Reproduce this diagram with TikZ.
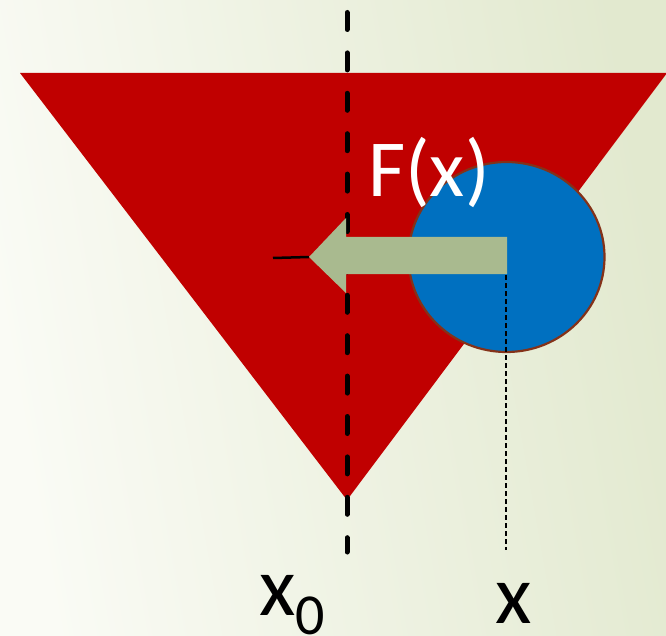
\documentclass[tikz,border=0pt]{standalone}
\usepackage{fontspec}
\setmainfont{Carlito}
\definecolor{bgA}{HTML}{FAFBF5}
\definecolor{bgB}{HTML}{E2E9CF}
\definecolor{tri}{HTML}{C00000}
\definecolor{ball}{HTML}{0070C0}
\definecolor{ballrim}{HTML}{843219}
\definecolor{arrowfill}{HTML}{A9BA8F}
\tikzset{
  axisline/.style={line width=5pt, line cap=round, dash pattern=on 17pt off 23.4pt},
  thindots/.style={line width=1.8pt, dash pattern=on 5pt off 3pt},
  lbl/.style={inner sep=0pt, anchor=base west}
}
\begin{document}
\begin{tikzpicture}[x=1pt,y=-1pt]
\useasboundingbox (0,0) rectangle (666,636);
% background gradient
\shade[left color=bgA, right color=bgB, shading angle=100] (0,0) rectangle (666,636);
% triangle
\fill[tri] (20,73) -- (667,73) -- (347,500) -- cycle;
% dashed axis
\coordinate (axtop) at (347,12.5);
\coordinate (axbot) at (347,552);
\draw[axisline] (axtop) -- (axbot);
% ball
\fill[ball, draw=ballrim, line width=2.2pt] (506.5,257) ellipse [x radius=98, y radius=95];
% black tick at arrow tip
\coordinate (tickL) at (273,258);
\coordinate (tip) at (309,257);
\draw[line width=2.5pt] (tickL) -- (tip);
% force arrow
\fill[arrowfill] (507,237) -- (346,237) -- (346,218) -- (tip) -- (346,293) -- (346,274) -- (507,274) -- cycle;
% thin dotted line to x
\coordinate (xtop) at (506,275);
\coordinate (xbot) at (506,550);
\draw[thindots] (xtop) -- (xbot);
% labels
\node[lbl, text=white, font=\fontsize{81}{90}\selectfont] (Flabel) at (368,197) {F(x)};
\node[lbl, font=\fontsize{84}{90}\selectfont] (x0label) at (259,615) {x\raisebox{-19pt}{\fontsize{58}{60}\selectfont 0}};
\node[lbl, font=\fontsize{84}{90}\selectfont] (xlabel) at (495,623) {x};
\end{tikzpicture}
\end{document}
